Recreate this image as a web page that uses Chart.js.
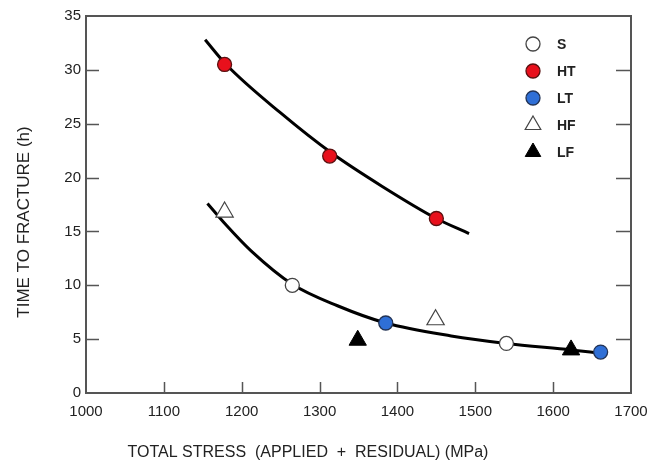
<!DOCTYPE html>
<html>
<head>
<meta charset="utf-8">
<script src="https://cdn.jsdelivr.net/npm/chart.js@4.4.0/dist/chart.umd.min.js"></script>
<style>
  html, body { margin: 0; padding: 0; background: #fff; }
  #wrap { width: 652px; height: 465px; }
</style>
</head>
<body>
<div id="wrap"><canvas id="fractureChart"></canvas></div>
<script>
// Data
const xTicks = [1000, 1100, 1200, 1300, 1400, 1500, 1600, 1700];
const yTicks = [0, 5, 10, 15, 20, 25, 30, 35];

const sStress = [1265, 1540];
const sTime = [10.0, 4.6];
const htStress = [1178, 1313, 1450];
const htTime = [30.5, 22.0, 16.2];
const ltStress = [1385, 1661];
const ltTime = [6.5, 3.8];
const hfStress = [1178, 1449];
const hfTime = [16.8, 6.8];
const lfStress = [1349, 1623];
const lfTime = [4.9, 4.0];

// hand-drawn trend curves
const upperStress = [1153, 1180, 1250, 1315, 1380, 1450, 1492];
const upperTime = [32.8, 30.5, 26.0, 22.3, 19.2, 16.2, 14.8];
const lowerStress = [1156, 1180, 1212, 1265, 1323, 1385, 1469, 1540, 1623, 1660];
const lowerTime = [17.6, 15.6, 13.2, 10.1, 8.1, 6.5, 5.3, 4.6, 4.0, 3.7];

const pts = (xs, ys) => xs.map((x, i) => ({ x: x, y: ys[i] }));

const FONT = "'Liberation Sans', Arial, sans-serif";
const TXT = '#222';

const markerSets = [
    { label: 'S',  data: pts(sStress, sTime),   pointStyle: 'circle',   pointRadius: 7, pointBackgroundColor: '#ffffff', pointBorderColor: '#444', pointBorderWidth: 1.3 },
    { label: 'HT', data: pts(htStress, htTime), pointStyle: 'circle',   pointRadius: 7, pointBackgroundColor: '#e8101c', pointBorderColor: '#5a1010', pointBorderWidth: 1.3 },
    { label: 'LT', data: pts(ltStress, ltTime), pointStyle: 'circle',   pointRadius: 7, pointBackgroundColor: '#2f6fd6', pointBorderColor: '#223355', pointBorderWidth: 1.3 },
    { label: 'HF', data: pts(hfStress, hfTime), pointStyle: 'triangle', pointRadius: 10, pointBackgroundColor: '#ffffff', pointBorderColor: '#444', pointBorderWidth: 1.2 },
    { label: 'LF', data: pts(lfStress, lfTime), pointStyle: 'triangle', pointRadius: 10, pointBackgroundColor: '#000000', pointBorderColor: '#000', pointBorderWidth: 1 }
];

const curveSets = [
    { label: 'upper', data: pts(upperStress, upperTime) },
    { label: 'lower', data: pts(lowerStress, lowerTime) }
].map(d => Object.assign(d, {
    showLine: true,
    borderColor: '#000',
    borderWidth: 3,
    pointRadius: 0,
    pointHoverRadius: 0,
    cubicInterpolationMode: 'monotone',
    fill: false
}));

// frame, inward ticks, legend and axis titles
const decorPlugin = {
    id: 'decor',
    afterDatasetsDraw(chart) {
        const ctx = chart.ctx;
        const a = chart.chartArea;
        const xs = chart.scales.x, ys = chart.scales.y;
        ctx.save();
        ctx.strokeStyle = '#555';
        ctx.lineWidth = 2;
        ctx.strokeRect(a.left, a.top, a.right - a.left, a.bottom - a.top);

        ctx.lineWidth = 1.5;
        ctx.beginPath();
        yTicks.slice(1, -1).forEach(v => {
            const py = Math.round(ys.getPixelForValue(v)) + 0.5;
            ctx.moveTo(a.left, py); ctx.lineTo(a.left + 13, py);
            ctx.moveTo(a.right, py); ctx.lineTo(a.right - 15, py);
        });
        xTicks.slice(1, -1).forEach(v => {
            const px = Math.round(xs.getPixelForValue(v)) + 0.5;
            ctx.moveTo(px, a.bottom); ctx.lineTo(px, a.bottom - 11);
        });
        ctx.stroke();

        // legend
        const lx = 533, ly = 44, gap = 27;
        markerSets.forEach((ds, i) => {
            const y = ly + i * gap;
            const r = ds.pointStyle === 'triangle' ? 9 : ds.pointRadius;
            ctx.lineWidth = ds.pointBorderWidth;
            ctx.fillStyle = ds.pointBackgroundColor;
            ctx.strokeStyle = ds.pointBorderColor;
            Chart.helpers.drawPoint(ctx, { pointStyle: ds.pointStyle, radius: r, borderWidth: ds.pointBorderWidth }, lx, y);
            ctx.fillStyle = TXT;
            ctx.font = 'bold 14px ' + FONT;
            ctx.textAlign = 'left';
            ctx.textBaseline = 'middle';
            ctx.fillText(ds.label, 557, y + 1);
        });

        // axis titles
        ctx.fillStyle = TXT;
        ctx.textAlign = 'center';
        ctx.textBaseline = 'middle';
        ctx.font = '16px ' + FONT;
        ctx.fillText('TOTAL STRESS  (APPLIED  +  RESIDUAL) (MPa)', 308, 453);
        ctx.translate(24, 222);
        ctx.rotate(-Math.PI / 2);
        ctx.font = '17px ' + FONT;
        ctx.fillText('TIME TO FRACTURE (h)', 0, 0);
        ctx.restore();
    }
};

const ctx = document.getElementById('fractureChart').getContext('2d');

const fractureChart = new Chart(ctx, {
    type: 'scatter',
    data: { datasets: markerSets.concat(curveSets) },
    options: {
        responsive: true,
        maintainAspectRatio: false,
        animation: false,
        layout: { padding: { left: 0, right: 21, top: 16, bottom: 0 } },
        plugins: {
            legend: { display: false },
            tooltip: { enabled: false }
        },
        scales: {
            x: {
                type: 'linear',
                min: 1000,
                max: 1700,
                afterFit: s => { s.height = 72; s.paddingLeft = 0; s.paddingRight = 0; },
                afterBuildTicks: s => { s.ticks = xTicks.map(v => ({ value: v })); },
                grid: { display: false, drawTicks: false },
                border: { display: false },
                ticks: { color: TXT, padding: 10, maxRotation: 0, font: { family: FONT, size: 15 }, callback: v => String(v) }
            },
            y: {
                type: 'linear',
                min: 0,
                max: 35,
                afterFit: s => { s.width = 86; s.paddingTop = 0; s.paddingBottom = 0; },
                afterBuildTicks: s => { s.ticks = yTicks.map(v => ({ value: v })); },
                grid: { display: false, drawTicks: false },
                border: { display: false },
                ticks: { color: TXT, padding: 5, font: { family: FONT, size: 15 }, callback: v => String(v) }
            }
        }
    },
    plugins: [decorPlugin]
});
</script>
</body>
</html>
